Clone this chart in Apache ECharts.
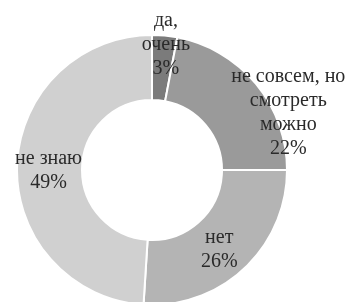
<!DOCTYPE html>
<html><head><meta charset="utf-8">
<script src="https://cdn.jsdelivr.net/npm/echarts@6/dist/echarts.min.js"></script>
<style>html,body{margin:0;padding:0;background:#fff}#c{width:351px;height:302px}</style>
</head><body><div id="c"></div>
<script>
const categories = ['да,\nочень', 'не совсем, но\nсмотреть\nможно', 'нет', 'не знаю'];
const values = [3, 22, 26, 49];
const colors = ['#7b7b7b', '#9a9a9a', '#b4b4b4', '#d0d0d0'];
const offsets = [[4, -20], [55, 10], [-5, 3], [2, 4]];
const chart = echarts.init(document.getElementById('c'));
chart.setOption({
  animation: false,
  series: [{
    type: 'pie',
    center: [152, 170],
    radius: [70, 135],
    startAngle: 90,
    clockwise: true,
    avoidLabelOverlap: false,
    itemStyle: { borderColor: '#fff', borderWidth: 2 },
    label: {
      position: 'inside',
      fontFamily: 'Liberation Serif',
      fontSize: 20,
      lineHeight: 24,
      color: '#2a2a2a',
      formatter: p => p.name + '\n' + p.value + '%'
    },
    labelLine: { show: false },
    data: categories.map((c, i) => ({
      name: c, value: values[i],
      itemStyle: { color: colors[i] },
      label: { offset: offsets[i] }
    }))
  }]
});
</script></body></html>
